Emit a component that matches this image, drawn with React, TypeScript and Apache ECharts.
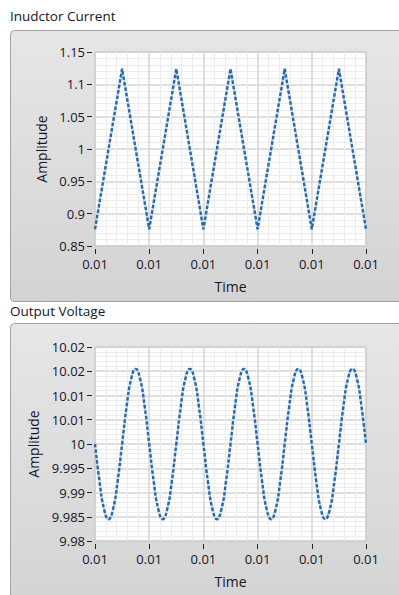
import React, { useEffect, useRef } from "react";
import * as echarts from "echarts";

// Inductor current: triangle-wave vertices (one value every half period)
const currentValues = [0.876, 1.124, 0.876, 1.124, 0.876, 1.124, 0.876, 1.124, 0.876, 1.124, 0.876];
// Output voltage: 12 samples per period, 5 periods
const voltageValues = [
  10, 9.99225, 9.98658, 9.9845, 9.98658, 9.99225, 10, 10.00775, 10.01342, 10.0155, 10.01342, 10.00775,
  10, 9.99225, 9.98658, 9.9845, 9.98658, 9.99225, 10, 10.00775, 10.01342, 10.0155, 10.01342, 10.00775,
  10, 9.99225, 9.98658, 9.9845, 9.98658, 9.99225, 10, 10.00775, 10.01342, 10.0155, 10.01342, 10.00775,
  10, 9.99225, 9.98658, 9.9845, 9.98658, 9.99225, 10, 10.00775, 10.01342, 10.0155, 10.01342, 10.00775,
  10, 9.99225, 9.98658, 9.9845, 9.98658, 9.99225, 10, 10.00775, 10.01342, 10.0155, 10.01342, 10.00775,
  10,
];
const timeStart = 0.01;
const timeEnd = 0.0105;
const timeTick = 0.0001;
const titles = ["Inudctor Current", "Output Voltage"];
const yAxisName = "Amplitude";
const xAxisName = "Time";
const currentRange = { min: 0.85, max: 1.15, interval: 0.05 };
const voltageRange = { min: 9.98, max: 10.02, interval: 0.005 };

const currentTimes = currentValues.map((_, i) => timeStart + (i * timeTick) / 2);
const voltageTimes = voltageValues.map((_, i) => timeStart + (i * timeTick) / 12);

const FONT = "'Open Sans', 'Noto Sans', sans-serif";
const TEXT = "#15152a";

export default function App() {
  const ref = useRef<HTMLDivElement>(null);
  useEffect(() => {
    if (!ref.current) return;
    const chart = echarts.init(ref.current, undefined, { renderer: "svg" });
    const grids = [
      { left: 95, top: 52, width: 271, height: 194 },
      { left: 95, top: 347, width: 271, height: 194 },
    ];
    const xAxis = grids.map((_, i) => ({
      type: "value",
      gridIndex: i,
      min: timeStart,
      max: timeEnd,
      interval: timeTick,
      offset: 3,
      name: xAxisName,
      nameLocation: "middle",
      nameGap: 30,
      nameTextStyle: { fontFamily: FONT, fontSize: 14, color: TEXT },
      axisLine: { show: false },
      axisTick: { show: true, length: 5, lineStyle: { color: "#222", width: 1 } },
      axisLabel: {
        margin: 8,
        fontFamily: FONT,
        fontSize: 13,
        color: TEXT,
        formatter: (v: number) => v.toFixed(2),
      },
      splitLine: { show: true, lineStyle: { color: "#d4d4d4", width: 1.5 } },
      minorTick: { show: false, splitNumber: 5 },
      minorSplitLine: { show: true, lineStyle: { color: "#ececec", width: 1 } },
    }));
    const ranges = [currentRange, voltageRange];
    const yAxis = ranges.map((r, i) => ({
      type: "value",
      gridIndex: i,
      min: r.min,
      max: r.max,
      interval: r.interval,
      offset: 3,
      name: yAxisName,
      nameLocation: "middle",
      nameGap: 42,
      nameRotate: 90,
      nameTextStyle: { fontFamily: FONT, fontSize: 14, color: TEXT },
      axisLine: { show: false },
      axisTick: { show: true, length: 5, lineStyle: { color: "#222", width: 1 } },
      axisLabel: {
        margin: 7,
        fontFamily: FONT,
        fontSize: 13,
        color: TEXT,
        formatter: (v: number) => String(parseFloat((v + 1e-9).toPrecision(4))),
      },
      splitLine: { show: true, lineStyle: { color: "#d4d4d4", width: 1.5 } },
      minorTick: { show: false, splitNumber: 5 },
      minorSplitLine: { show: true, lineStyle: { color: "#ececec", width: 1 } },
    }));
    const lineSeries = (idx: number, data: number[][], smooth: boolean) => [
      {
        type: "line",
        xAxisIndex: idx,
        yAxisIndex: idx,
        data,
        smooth,
        symbol: "none",
        silent: true,
        lineStyle: { color: "#c9ddef", width: 2.4 },
      },
      {
        type: "line",
        xAxisIndex: idx,
        yAxisIndex: idx,
        data,
        smooth,
        symbol: "none",
        silent: true,
        lineStyle: { color: "#2868aa", width: 2.4, type: [3.5, 2] },
      },
    ];
    const panelFill = new echarts.graphic.LinearGradient(0, 0, 0, 1, [
      { offset: 0, color: "#e6e6e6" },
      { offset: 1, color: "#d3d3d3" },
    ]);
    chart.setOption({
      animation: false,
      backgroundColor: "#ffffff",
      graphic: [
        { type: "rect", z: -10, shape: { x: 10.5, y: 30.5, width: 400, height: 271, r: 4 }, style: { fill: panelFill, stroke: "#a3a3a3", lineWidth: 1 } },
        { type: "rect", z: -10, shape: { x: 10.5, y: 323.5, width: 400, height: 290, r: 4 }, style: { fill: panelFill, stroke: "#a3a3a3", lineWidth: 1 } },
        { type: "text", z: 10, x: 10, y: 16, style: { text: titles[0], fontFamily: FONT, fontSize: 13.5, fill: TEXT, verticalAlign: "middle" } },
        { type: "text", z: 10, x: 10, y: 311, style: { text: titles[1], fontFamily: FONT, fontSize: 13.5, fill: TEXT, verticalAlign: "middle" } },
      ],
      grid: grids.map((g) => ({
        ...g,
        show: true,
        backgroundColor: "#ffffff",
        borderColor: "#9c9c9c",
        borderWidth: 1,
      })),
      xAxis,
      yAxis,
      series: [
        ...lineSeries(0, currentTimes.map((t, i) => [t, currentValues[i]]), false),
        ...lineSeries(1, voltageTimes.map((t, i) => [t, voltageValues[i]]), true),
      ],
    });
    return () => chart.dispose();
  }, []);
  return <div ref={ref} style={{ position: "fixed", left: 0, top: 0, width: 399, height: 595 }} />;
}
